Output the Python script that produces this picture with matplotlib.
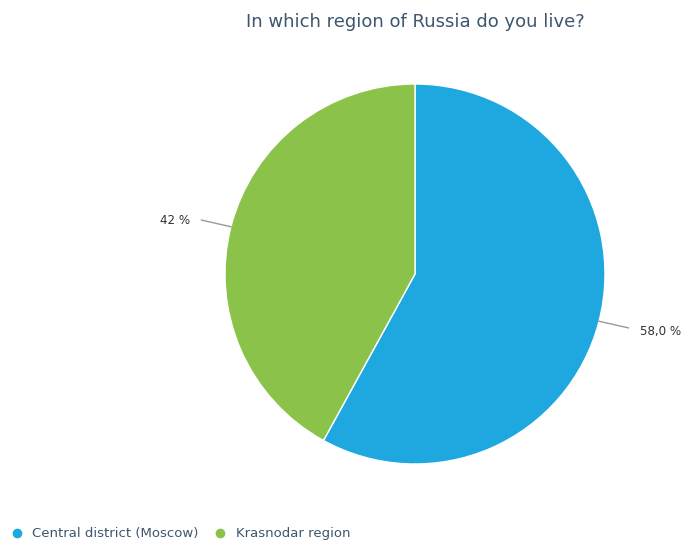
import numpy as np
import matplotlib.pyplot as plt
from matplotlib.lines import Line2D

# data
categories = ["Central district (Moscow)", "Krasnodar region"]
shares = [58.0, 42.0]
value_labels = ["58,0 %", "42 %"]
colors = ["#1fa8e0", "#8bc34a"]

W, H = 686, 545
fig = plt.figure(figsize=(W / 100, H / 100), dpi=100)

# pie placed in pixel space: center (415, 274 from top), radius 190
cx, cy, r = 415, H - 274, 190
ax = fig.add_axes([(cx - r) / W, (cy - r) / H, 2 * r / W, 2 * r / H])
wedges, _ = ax.pie(shares, colors=colors, startangle=90, counterclock=False,
                   radius=1, wedgeprops=dict(edgecolor="white", linewidth=1))
ax.set_xlim(-1, 1)
ax.set_ylim(-1, 1)
ax.set_aspect("equal")
ax.axis("off")

# leader lines + labels
for w, lab in zip(wedges, value_labels):
    ang = np.deg2rad((w.theta1 + w.theta2) / 2)
    x0, y0 = np.cos(ang), np.sin(ang)
    sign = 1 if x0 > 0 else -1
    x1, y1 = x0 + sign * 0.155, y0 + 0.035 * (1 if y0 > 0 else -1)
    ax.plot([x0, x1], [y0, y1], color="#999999", lw=1, clip_on=False)
    ax.text(x1 + sign * 0.06, y1 - 0.01 * (1 if y0 < 0 else -1) - 0.01, lab,
            ha="left" if sign > 0 else "right", va="center",
            fontsize=8.6, color="#333333")

fig.text(415 / W, 1 - 22 / H, "In which region of Russia do you live?",
         ha="center", va="center", fontsize=13, color="#3d566e")

handles = [Line2D([], [], marker="o", ls="", markersize=7, markerfacecolor=c,
                  markeredgecolor="none") for c in colors]
fig.legend(handles, categories, loc="center left", bbox_to_anchor=(10 / W, 1 - 534 / H),
           ncol=2, frameon=False, fontsize=9.5, handletextpad=0.7, handlelength=1.0,
           columnspacing=1.1, labelcolor="#3d566e", borderaxespad=0, borderpad=0)

fig.savefig("out.png", dpi=100, facecolor="white")
